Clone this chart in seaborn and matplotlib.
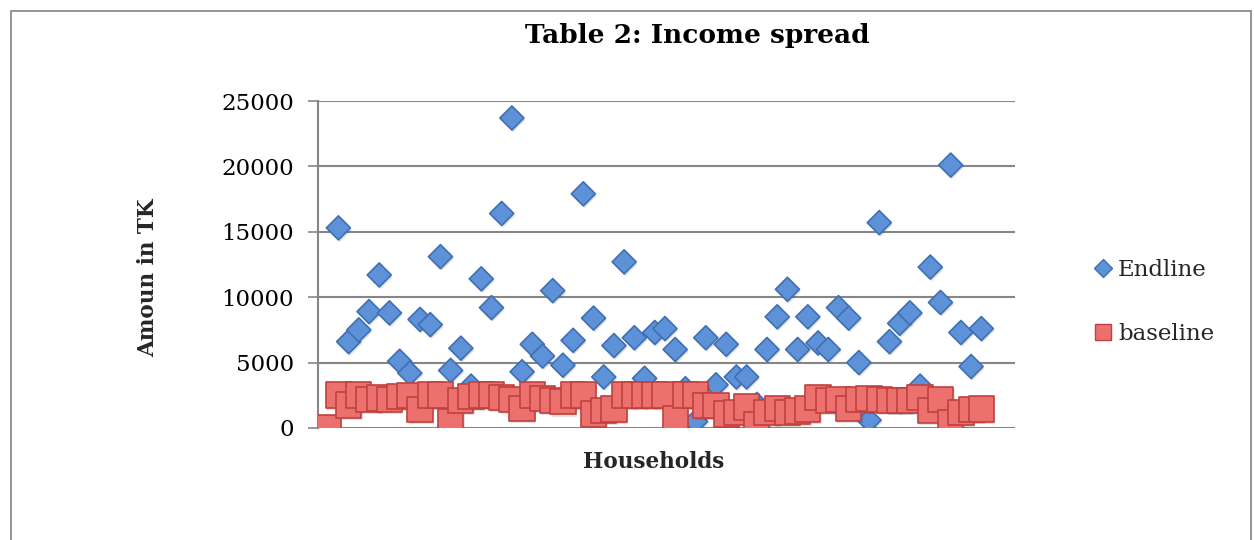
import numpy as np
import pandas as pd
import matplotlib
matplotlib.use("Agg")
import matplotlib.pyplot as plt
import matplotlib.patheffects as pe
from matplotlib.patches import Rectangle
from matplotlib.lines import Line2D
import seaborn as sns

# Monthly income per household (TK), endline and baseline surveys
endline = [0, 15300, 6600, 7500, 8900, 11700, 8800, 5100, 4200, 8300,
           7900, 13100, 4400, 6100, 3200, 11400, 9200, 16400, 23700, 4300,
           6400, 5500, 10500, 4800, 6700, 17900, 8400, 3900, 6300, 12700,
           6900, 3800, 7300, 7600, 6000, 3000, 500, 6900, 3300, 6400,
           3900, 3900, 1800, 6000, 8500, 10600, 6000, 8500, 6500, 6000,
           9200, 8400, 5000, 600, 15700, 6600, 8000, 8800, 3200, 12300,
           9600, 20100, 7300, 4700, 7600]
baseline = [0, 2520, 1760, 2520, 2200, 2300, 2200, 2400, 2500, 1400,
            2520, 2520, 460, 2090, 2400, 2520, 2520, 2350, 2200, 1500,
            2520, 2250, 2100, 2000, 2520, 2520, 1070, 1350, 1450, 2520,
            2520, 2520, 2520, 2520, 750, 2520, 2520, 1700, 1700, 1070,
            1200, 1600, 230, 1200, 1500, 1200, 1300, 1450, 2350, 2100,
            2200, 1500, 2200, 2250, 2200, 2100, 2100, 2100, 2350, 1350,
            2150, 440, 1200, 1400, 1450]
households = list(range(1, len(endline) + 1))
y_ticks = [0, 5000, 10000, 15000, 20000, 25000]

df = pd.DataFrame({"household": households, "Endline": endline, "baseline": baseline})

sns.set_theme(style="white")
plt.rcParams["font.family"] = ["DejaVu Serif"]

W, H = 1254, 540
fig = plt.figure(figsize=(W / 100, H / 100), dpi=100)
fig.patch.set_facecolor("white")

# outer chart frame
fig.add_artist(Rectangle((11 / W, -0.2), (1251 - 11) / W, 1.2 - 11 / H,
                         transform=fig.transFigure, fill=False,
                         edgecolor="#8c8c8c", linewidth=1.3, clip_on=False))

left, right, top, bottom = 318, 1015, 101, 428
ax = fig.add_axes([left / W, (H - bottom) / H, (right - left) / W, (bottom - top) / H])

shadow = [pe.SimplePatchShadow(offset=(1, -1.5), shadow_rgbFace="black", alpha=0.12),
          pe.Normal()]

blue_face, blue_edge = "#5e92d8", "#3f6fb3"
red_face, red_edge = "#ec716e", "#c1403d"

sns.scatterplot(data=df, x="household", y="Endline", ax=ax, marker="D", s=150,
                color=blue_face, edgecolor=blue_edge, linewidth=1.2, zorder=3,
                path_effects=shadow, legend=False)
sns.scatterplot(data=df, x="household", y="baseline", ax=ax, marker="s", s=330,
                color=red_face, edgecolor=red_edge, linewidth=1.2, zorder=4,
                path_effects=shadow, legend=False)

ax.set_xlim(0, 68.3)
ax.set_ylim(0, 25000)
ax.set_yticks(y_ticks)
ax.set_yticklabels([str(v) for v in y_ticks])
ax.set_xticks([])
ax.grid(axis="y", color="#868686", linewidth=1.5, zorder=0)
ax.set_axisbelow(True)
for side in ["top", "right", "bottom"]:
    ax.spines[side].set_visible(False)
ax.spines["left"].set_color("#868686")
ax.spines["left"].set_linewidth(1.5)
ax.tick_params(axis="y", which="major", left=True, length=7, width=1.2,
               color="#868686", labelsize=16.5, labelcolor="black", pad=10.5)

ax.set_xlabel("Households", fontsize=15.5, fontweight="bold", va="center")
ax.xaxis.set_label_coords(0.482, -0.104)
ax.set_ylabel("Amoun in TK", fontsize=15.5, fontweight="bold", va="center")
ax.yaxis.set_label_coords(-0.244, 0.459)

fig.text(697 / W, 1 - 36 / H, "Table 2: Income spread", ha="center", va="center",
         fontsize=19, fontweight="bold", color="black")

handles = [
    Line2D([], [], linestyle="none", marker="D", markersize=9.5, markerfacecolor=blue_face,
           markeredgecolor=blue_edge, markeredgewidth=1.0, label="Endline"),
    Line2D([], [], linestyle="none", marker="s", markersize=12, markerfacecolor=red_face,
           markeredgecolor=red_edge, markeredgewidth=1.0, label="baseline"),
]
fig.legend(handles=handles, loc="center left", bbox_to_anchor=(1094 / W, 1 - 302 / H),
           frameon=False, fontsize=16.5, handlelength=0.75, handletextpad=0.3,
           labelspacing=1.8, borderaxespad=0, borderpad=0)

fig.savefig("out.png", dpi=100, facecolor="white")
